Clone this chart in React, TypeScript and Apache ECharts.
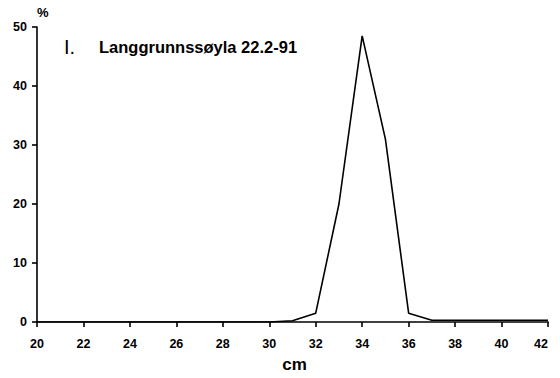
import React, { useEffect, useRef } from "react";
import * as echarts from "echarts";

const lengthsCm = [20, 21, 22, 23, 24, 25, 26, 27, 28, 29, 30, 31, 32, 33, 34, 35, 36, 37, 38, 39, 40, 41, 42];
const percent = [0, 0, 0, 0, 0, 0, 0, 0, 0, 0, 0, 0.2, 1.5, 20, 48.5, 31, 1.5, 0.3, 0.3, 0.3, 0.3, 0.3, 0.3];
const panelNumber = "I.";
const title = "Langgrunnssøyla 22.2-91";
const xName = "cm";
const yName = "%";

export default function App() {
  const ref = useRef<HTMLDivElement>(null);
  useEffect(() => {
    if (!ref.current) return;
    const chart = echarts.init(ref.current, null, { renderer: "svg" });
    const font = "Liberation Sans";
    chart.setOption({
      animation: false,
      backgroundColor: "#ffffff",
      grid: { left: 37, right: 12, top: 27, bottom: 53 },
      xAxis: {
        type: "value",
        min: 20,
        max: 42,
        interval: 2,
        name: xName,
        nameLocation: "middle",
        nameGap: 34,
        nameTextStyle: { color: "#000", fontFamily: font, fontSize: 17, fontWeight: "bold", padding: [0, 0, 0, 4] },
        axisLine: { lineStyle: { color: "#000", width: 1.6 } },
        axisTick: { lineStyle: { color: "#000", width: 1.6 }, length: 5 },
        axisLabel: { color: "#000", fontFamily: font, fontSize: 12.5, fontWeight: "bold", margin: 15, alignMaxLabel: "right" },
        splitLine: { show: false },
      },
      yAxis: {
        type: "value",
        min: 0,
        max: 50,
        interval: 10,
        axisLine: { show: true, lineStyle: { color: "#000", width: 1.6 } },
        axisTick: { show: true, lineStyle: { color: "#000", width: 1.6 }, length: 5 },
        axisLabel: { color: "#000", fontFamily: font, fontSize: 12.5, fontWeight: "bold", margin: 10 },
        splitLine: { show: false },
      },
      graphic: [
        { type: "text", left: 37, top: 6, style: { text: yName, fill: "#000", fontFamily: font, fontSize: 13, fontWeight: "bold" } },
        { type: "text", left: 64, top: 37, style: { text: panelNumber, fill: "#000", fontFamily: font, fontSize: 20 } },
        { type: "text", left: 99, top: 38, style: { text: title, fill: "#000", fontFamily: font, fontSize: 16.5, fontWeight: "bold" } },
      ],
      series: [
        {
          type: "line",
          data: lengthsCm.map((x, i) => [x, percent[i]]),
          showSymbol: false,
          lineStyle: { color: "#000", width: 1.6 },
          silent: true,
        },
      ],
    });
    return () => chart.dispose();
  }, []);
  return <div ref={ref} style={{ position: "absolute", left: 0, top: 0, width: 560, height: 378 }} />;
}
